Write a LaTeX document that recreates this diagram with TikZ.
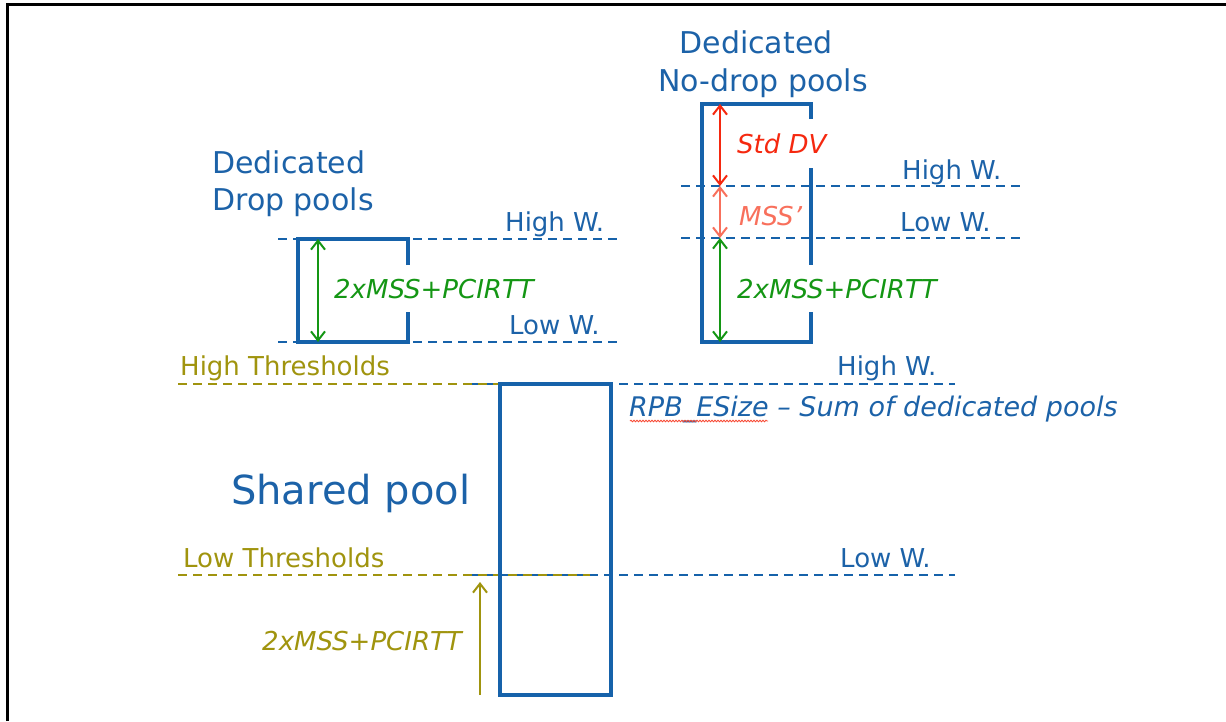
\documentclass[tikz,border=0pt]{standalone}
\usepackage{fontspec}
\setmainfont{DejaVu Sans}
\usetikzlibrary{arrows.meta,decorations.pathmorphing,calc}
\definecolor{poolblue}{RGB}{22,98,170}
\definecolor{txtblue}{RGB}{28,98,168}
\definecolor{mygreen}{RGB}{20,150,20}
\definecolor{myred}{RGB}{245,40,15}
\definecolor{mysalmon}{RGB}{248,112,92}
\definecolor{myolive}{RGB}{160,148,14}
\begin{document}
\begin{tikzpicture}[x=1pt,y=-1pt,
  poolline/.style={draw=poolblue,line width=4pt,line join=miter},
  wline/.style={draw=poolblue,line width=2.5pt,dash pattern=on 9pt off 6pt},
  tline/.style={draw=myolive,line width=2.5pt,dash pattern=on 9pt off 6pt},
  lbl/.style={anchor=base west,inner sep=0pt,text=txtblue,font=\fontsize{26}{30}\selectfont},
  ital/.style={anchor=base west,inner sep=0pt,font=\fontsize{26}{30}\selectfont\itshape},
  ttl/.style={inner sep=0pt,text=txtblue,font=\fontsize{30}{36}\selectfont},
  dim/.style={line width=2pt,{Straight Barb[length=9pt,width=14pt]}-{Straight Barb[length=9pt,width=14pt]}},
  up/.style={line width=2pt,-{Straight Barb[length=9pt,width=14pt]}}
]
\useasboundingbox (0,0) rectangle (1226,721);
% frame
\draw[line width=3pt,black] (7,721) -- (7,4) -- (1226,4);

% ---------- dashed level lines ----------
\draw[wline] (278,239) -- (622,239);
\draw[wline] (278,342) -- (622,342);
\draw[wline] (681,186) -- (1024,186);
\draw[wline] (681,238) -- (1024,238);
\draw[wline] (469,384) -- (955,384);
\draw[wline] (469,575) -- (955,575);
\draw[tline] (178,384) -- (500,384);
\draw[tline] (178,575) -- (590,575);

% ---------- pools ----------
\draw[poolline] (408,265) -- (408,239) -- (298,239) -- (298,342) -- (408,342) -- (408,312);
\draw[poolline] (811,119) -- (811,104) -- (702,104) -- (702,342) -- (811,342) -- (811,312);
\draw[poolline] (811,168) -- (811,265);
\draw[poolline] (500,384) rectangle (611,695);

% ---------- coordinates for dimension arrows ----------
\coordinate (da1) at (318,239);
\coordinate (da2) at (318,342);
\coordinate (nb1) at (720,104);
\coordinate (nb2) at (720,186);
\coordinate (nb3) at (720,238);
\coordinate (nb4) at (720,342);
\coordinate (sa1) at (480,695);
\coordinate (sa2) at (480,582);

\draw[dim,draw=mygreen] (da1) -- (da2);
\draw[dim,draw=myred] (nb1) -- (nb2);
\draw[dim,draw=mysalmon] (nb2) -- (nb3);
\draw[dim,draw=mygreen] (nb3) -- (nb4);
\draw[up,draw=myolive] (sa1) -- (sa2);

% ---------- titles ----------
\node[ttl,anchor=base west] (t1a) at (212,173) {Dedicated};
\node[ttl,anchor=base west] (t1b) at (212,210) {Drop pools};
\node[ttl,anchor=base] (t2a) at (756,53) {Dedicated};
\node[ttl,anchor=base] (t2b) at (763,91) {No-drop pools};
\node[inner sep=0pt,anchor=base west,text=txtblue,font=\fontsize{40}{46}\selectfont] (sp) at (231,504) {Shared pool};

% ---------- watermark labels ----------
\node[lbl] (l1) at (505,231) {High W.};
\node[lbl] (l2) at (509,334) {Low W.};
\node[lbl] (l3) at (902,179) {High W.};
\node[lbl] (l4) at (900,231) {Low W.};
\node[lbl] (l5) at (837,375) {High W.};
\node[lbl] (l6) at (840,567) {Low W.};
\node[lbl,text=myolive] (l7) at (180,375) {High Thresholds};
\node[lbl,text=myolive] (l8) at (183,567) {Low Thresholds};

% ---------- dimension labels ----------
\node[ital,text=mygreen] (g1) at (334,298) {2xMSS+PCIRTT};
\node[ital,text=myred] (r1) at (737,153) {Std DV};
\node[ital,text=mysalmon] (s1) at (739,225) {MSS’};
\node[ital,text=mygreen] (g2) at (737,298) {2xMSS+PCIRTT};
\node[ital,text=myolive,anchor=base east] (o1) at (462,650) {2xMSS+PCIRTT};
\node[ital,text=txtblue,font=\fontsize{27}{32}\selectfont\itshape] (rpb) at (629,416) {RPB\_ESize – Sum of dedicated pools};
\draw[myred!85,line width=0.8pt,decorate,decoration={snake,amplitude=0.8pt,segment length=3pt}]
  ($(rpb.base west)+(1,5)$) -- ($(rpb.base west)+(139,5)$);
\end{tikzpicture}
\end{document}
